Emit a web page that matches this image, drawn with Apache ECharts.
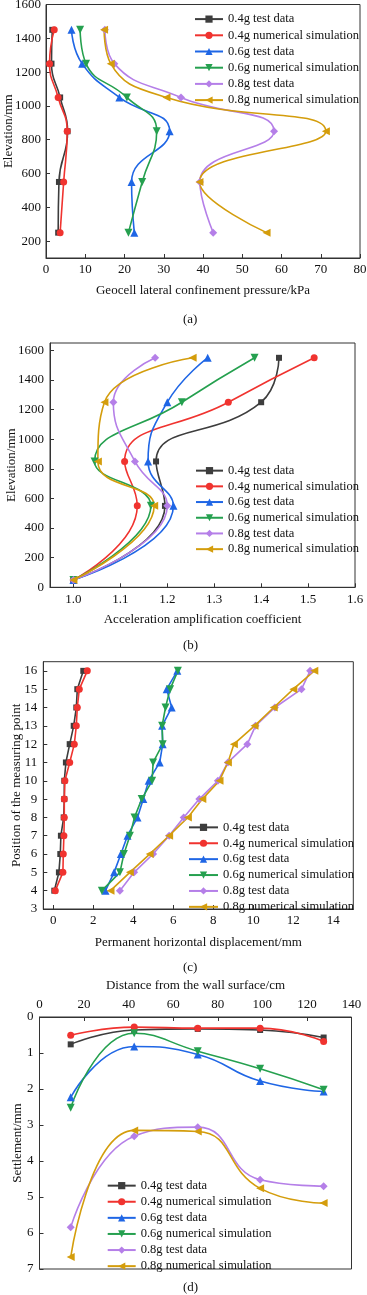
<!DOCTYPE html>
<html>
<head>
<meta charset="utf-8">
<script src="https://cdn.jsdelivr.net/npm/echarts@6/dist/echarts.min.js"></script>
<style>
  html, body { margin: 0; padding: 0; background: #fff; }
  #chart { width: 367px; height: 1295px; }
</style>
</head>
<body>
<div id="chart"></div>
<script>
// series names / legend
const names = ['0.4g test data', '0.4g numerical simulation', '0.6g test data',
  '0.6g numerical simulation', '0.8g test data', '0.8g numerical simulation'];

// (a) lateral confinement pressure vs elevation
const aElev = [1450, 1250, 1050, 850, 550, 250];
const aTest04 = [1.6, 1.4, 3.6, 5.5, 3.3, 3.1];
const aSim04 = [2.1, 0.9, 3.1, 5.4, 4.5, 3.6];
const aTest06 = [6.5, 9.2, 18.7, 31.5, 21.8, 22.5];
const aSim06 = [8.7, 10.2, 20.6, 28.2, 24.5, 21.0];
const aTest08 = [15.0, 17.4, 34.4, 58.1, 39.2, 42.6];
const aSim08 = [14.8, 16.5, 30.7, 71.3, 39.1, 56.2];

// (b) acceleration amplification vs elevation
const bElev = [1550, 1250, 850, 550, 50];
const bTest04 = [1.438, 1.400, 1.176, 1.195, 1.0];
const bSim04 = [1.513, 1.330, 1.109, 1.136, 1.0];
const bTest06 = [1.286, 1.200, 1.159, 1.213, 1.0];
const bSim06 = [1.386, 1.231, 1.045, 1.165, 1.0];
const bTest08 = [1.174, 1.085, 1.131, 1.200, 1.0];
const bSim08 = [1.254, 1.066, 1.052, 1.172, 1.0];

// (c) permanent displacement vs measuring point
const cPos = [16, 15, 14, 13, 12, 11, 10, 9, 8, 7, 6, 5, 4];
const cTest04 = [1.50, 1.20, 1.15, 1.02, 0.82, 0.63, 0.55, 0.55, 0.52, 0.38, 0.35, 0.28, 0.05];
const cSim04 = [1.70, 1.30, 1.20, 1.15, 1.05, 0.82, 0.58, 0.55, 0.55, 0.53, 0.50, 0.48, 0.10];
const cTest06 = [6.20, 5.67, 5.92, 5.44, 5.47, 5.32, 4.77, 4.50, 4.21, 3.71, 3.38, 3.04, 2.61];
const cSim06 = [6.23, 5.84, 5.61, 5.44, 5.47, 4.99, 4.94, 4.42, 4.06, 3.83, 3.53, 3.33, 2.43];
const cTest08 = [12.84, 12.41, 11.08, 10.11, 9.70, 8.73, 8.23, 7.30, 6.52, 5.79, 4.99, 4.04, 3.33];
const cSim08 = [13.05, 12.00, 11.02, 10.06, 9.03, 8.73, 8.31, 7.45, 6.73, 5.79, 4.82, 3.83, 2.86];

// (d) settlement vs distance from wall
const dDist = [14, 42.5, 71, 99, 127.5];
const dTest04 = [0.76, 0.36, 0.33, 0.36, 0.57];
const dSim04 = [0.51, 0.28, 0.31, 0.31, 0.68];
const dTest06 = [2.23, 0.82, 1.04, 1.78, 2.07];
const dSim06 = [2.52, 0.45, 0.95, 1.44, 2.02];
const dTest08 = [5.84, 3.31, 3.06, 4.52, 4.70];
const dSim08 = [6.67, 3.15, 3.18, 4.76, 5.17];

const colors = ['#3d3d3d', '#f0332f', '#1f66e5', '#25a04f', '#b57fe8', '#d49d0c'];
const symbols = ['rect', 'circle', 'triangle', 'triangle', 'diamond', 'triangle'];
const rotates = [0, 0, 0, 180, 0, 90];
const sizes = [6, 7, 8, 8, 8, 8];
const FONT = '"Liberation Serif", "DejaVu Serif", serif';

// values on one axis, position on the other
function makeSeries(gi, vals, pos, swap, smooth) {
  return vals.map((arr, i) => ({
    name: names[i],
    type: 'line',
    xAxisIndex: gi,
    yAxisIndex: gi,
    smooth: smooth ? 0.5 : false,
    symbol: symbols[i],
    symbolRotate: rotates[i],
    symbolSize: sizes[i],
    color: colors[i],
    lineStyle: { width: 1.6 },
    data: arr.map((v, k) => swap ? [pos[k], v] : [v, pos[k]]),
    z: 3
  }));
}

function range(a, b, s) {
  const r = [];
  for (let v = a; v <= b + 1e-9; v += s) r.push(+v.toFixed(4));
  return r;
}

const axisBase = {
  axisLine: { show: true, onZero: false, lineStyle: { color: '#333', width: 1 } },
  axisTick: { show: true, inside: true, length: 4, lineStyle: { color: '#333' } },
  splitLine: { show: false },
  axisLabel: { color: '#111', fontSize: 13, fontFamily: FONT },
  nameLocation: 'middle',
  nameMoveOverlap: false,
  nameTextStyle: { color: '#111', fontSize: 13, fontFamily: FONT }
};

function axis(extra) {
  const o = JSON.parse(JSON.stringify(axisBase));
  Object.keys(extra).forEach(k => {
    if (typeof extra[k] === 'object' && !Array.isArray(extra[k]) && o[k]) {
      Object.assign(o[k], extra[k]);
    } else {
      o[k] = extra[k];
    }
  });
  if (!o.axisLabel.formatter) o.axisLabel.formatter = v => String(v);
  return o;
}

function legend(left, top, lh, w) {
  return {
    orient: 'vertical',
    left: left,
    top: top,
    data: names,
    itemWidth: w,
    itemHeight: 9,
    itemGap: 0,
    selectedMode: false,
    textStyle: { fontSize: 12.5, fontFamily: FONT, color: '#111', lineHeight: lh }
  };
}

const gridStyle = { show: true, borderColor: '#333', borderWidth: 1, backgroundColor: 'transparent',
  containLabel: false, outerBoundsMode: 'none' };

const option = {
  animation: false,
  grid: [
    Object.assign({ left: 46, right: 7, top: 4.5, bottom: 1037 }, gridStyle),
    Object.assign({ left: 50, right: 12, top: 343, bottom: 707.7 }, gridStyle),
    Object.assign({ left: 43.3, right: 13.7, top: 661.7, bottom: 386 }, gridStyle),
    Object.assign({ left: 39.5, right: 15.5, top: 1017, bottom: 26 }, gridStyle)
  ],
  xAxis: [
    axis({ gridIndex: 0, type: 'value', min: 0, max: 80, interval: 10,
      name: 'Geocell lateral confinement pressure/kPa', nameGap: 26,
      axisLabel: { margin: 5 } }),
    axis({ gridIndex: 1, type: 'value', min: 0.95, max: 1.6,
      name: 'Acceleration amplification coefficient', nameGap: 26,
      axisLabel: { margin: 6, customValues: range(1.0, 1.6, 0.1), formatter: v => v.toFixed(1) },
      axisTick: { customValues: range(1.0, 1.6, 0.1) } }),
    axis({ gridIndex: 2, type: 'value', min: -0.5, max: 15,
      name: 'Permanent horizontal displacement/mm', nameGap: 27,
      axisLabel: { margin: 5, customValues: range(0, 14, 2) },
      axisTick: { customValues: range(0, 14, 2) } }),
    axis({ gridIndex: 3, type: 'value', position: 'top', min: 0, max: 140, interval: 20,
      name: 'Distance from the wall surface/cm', nameGap: 25,
      axisLabel: { margin: 6 } })
  ],
  yAxis: [
    axis({ gridIndex: 0, type: 'value', min: 100, max: 1600,
      name: 'Elevation/mm', nameGap: 31,
      axisLabel: { margin: 5, customValues: range(200, 1600, 200) },
      axisTick: { customValues: range(200, 1600, 200) } }),
    axis({ gridIndex: 1, type: 'value', min: 0, max: 1650,
      name: 'Elevation/mm', nameGap: 32,
      axisLabel: { margin: 6, customValues: range(0, 1600, 200) },
      axisTick: { customValues: range(0, 1600, 200) } }),
    axis({ gridIndex: 2, type: 'value', min: 3, max: 16.5,
      name: 'Position of the measuring point', nameGap: 20,
      axisLabel: { margin: 6, customValues: range(3, 16, 1) },
      axisTick: { customValues: range(3, 16, 1) } }),
    axis({ gridIndex: 3, type: 'value', min: 0, max: 7, interval: 1, inverse: true,
      name: 'Settlement/mm', nameGap: 15,
      axisLabel: { margin: 6 } })
  ],
  legend: [
    legend(189, 6, 16.2, 28),
    legend(190, 457.8, 15.7, 27),
    legend(183, 814.4, 15.9, 29),
    legend(101.7, 1172.6, 16.1, 28)
  ],
  graphic: [
    ['(a)', 320], ['(b)', 646.5], ['(c)', 968], ['(d)', 1288]
  ].map(([t, y]) => ({
    type: 'text', left: 183, top: y - 7,
    style: { text: t, fontSize: 13, fontFamily: FONT, fill: '#111' }
  })),
  series: [].concat(
    makeSeries(0, [aTest04, aSim04, aTest06, aSim06, aTest08, aSim08], aElev, false, true),
    makeSeries(1, [bTest04, bSim04, bTest06, bSim06, bTest08, bSim08], bElev, false, true),
    makeSeries(2, [cTest04, cSim04, cTest06, cSim06, cTest08, cSim08], cPos, false, false),
    makeSeries(3, [dTest04, dSim04, dTest06, dSim06, dTest08, dSim08], dDist, true, true)
  )
};

const chart = echarts.init(document.getElementById('chart'), null, { renderer: 'canvas' });
chart.setOption(option);
</script>
</body>
</html>
